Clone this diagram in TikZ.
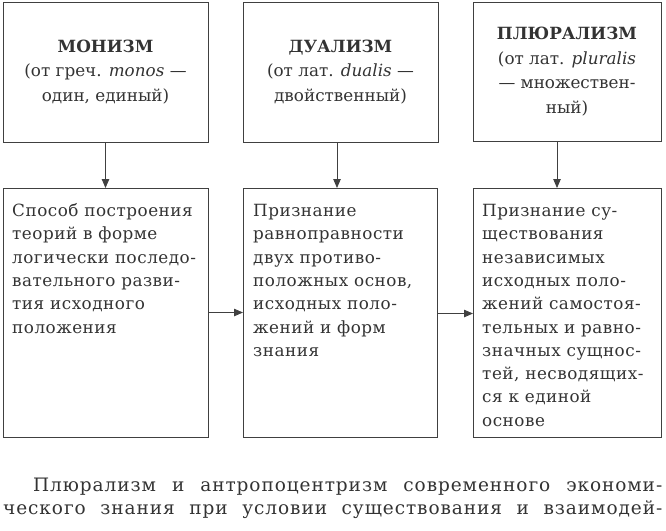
\documentclass[tikz,border=0pt]{standalone}
\usepackage{fontspec}
\setmainfont{DejaVu Serif}
\newfontfamily\parafont[LetterSpace=5]{DejaVu Serif}
\newfontfamily\bodyfont[LetterSpace=3]{DejaVu Serif}
\usetikzlibrary{arrows.meta}
\definecolor{ink}{HTML}{333333}
\definecolor{linec}{HTML}{404040}
\tikzset{
  box/.style={draw=linec, line width=1pt, inner sep=0pt, outer sep=0pt, rectangle},
  topbox/.style={box, align=center, text=ink, font=\fontsize{16.8}{24.5}\selectfont},
  bodytext/.style={anchor=base west, inner sep=0pt, text=ink, font=\bodyfont\fontsize{16.8}{23.3}\selectfont},
  paratext/.style={anchor=base west, inner sep=0pt, text=ink, font=\parafont\fontsize{18.5}{24}\selectfont},
  arr/.style={draw=linec, line width=0.8pt, -{Triangle[length=9pt,width=7.5pt]}}
}
\begin{document}
\begin{tikzpicture}[x=1pt,y=-1pt]
\useasboundingbox (0,0) rectangle (666,530);
% top boxes
\node[topbox, minimum width=205pt, minimum height=140pt] (t1) at (105.5,72)
  {\textbf{МОНИЗМ}\\(от греч. \textit{monos} —\\один, единый)};
\node[topbox, minimum width=195pt, minimum height=140pt] (t2) at (340.5,72)
  {\textbf{ДУАЛИЗМ}\\(от лат. \textit{dualis} —\\двойственный)};
\node[topbox, minimum width=188pt, minimum height=139pt] (t3) at (567,71.5)
  {\textbf{ПЛЮРАЛИЗМ}\\(от лат. \textit{pluralis}\\— множествен-\\ный)};
% lower boxes
\node[box, minimum width=205pt, minimum height=249pt] (b1) at (105.5,312.5) {};
\node[box, minimum width=194pt, minimum height=249pt] (b2) at (340,312.5) {};
\node[box, minimum width=188pt, minimum height=249pt] (b3) at (567,312.5) {};
% texts of lower boxes
\node[bodytext] (x1) at (12,216.5) {\parbox[t]{196pt}{\raggedright
Способ построения\\теорий в форме\\логически последо-\\вательного разви-\\тия исходного\\положения}};
\node[bodytext] (x2) at (253,216.5) {\parbox[t]{184pt}{\raggedright
Признание\\равноправности\\двух противо-\\положных основ,\\исходных поло-\\жений и форм\\знания}};
\node[bodytext] (x3) at (482,216.5) {\parbox[t]{178pt}{\raggedright
Признание су-\\ществования\\независимых\\исходных поло-\\жений самостоя-\\тельных и равно-\\значных сущнос-\\тей, несводящих-\\ся к единой\\основе}};
% connectors
\draw[arr] (t1.south) -- (b1.north);
\draw[arr] ([xshift=-3.5pt]t2.south) -- ([xshift=-3pt]b2.north);
\draw[arr] ([xshift=-10pt]t3.south) -- ([xshift=-10pt]b3.north);
\draw[arr] (b1.east) -- (b2.west);
\draw[arr] ([yshift=-1pt]b2.east) -- ([yshift=-1pt]b3.west);
% paragraph below
\node[paratext] (p1) at (33,491.5)
  {\makebox[629pt][s]{Плюрализм и антропоцентризм современного экономи-}};
\node[paratext] (p2) at (3,514.5)
  {\makebox[659pt][s]{ческого знания при условии существования и взаимодей-}};
\end{tikzpicture}
\end{document}
